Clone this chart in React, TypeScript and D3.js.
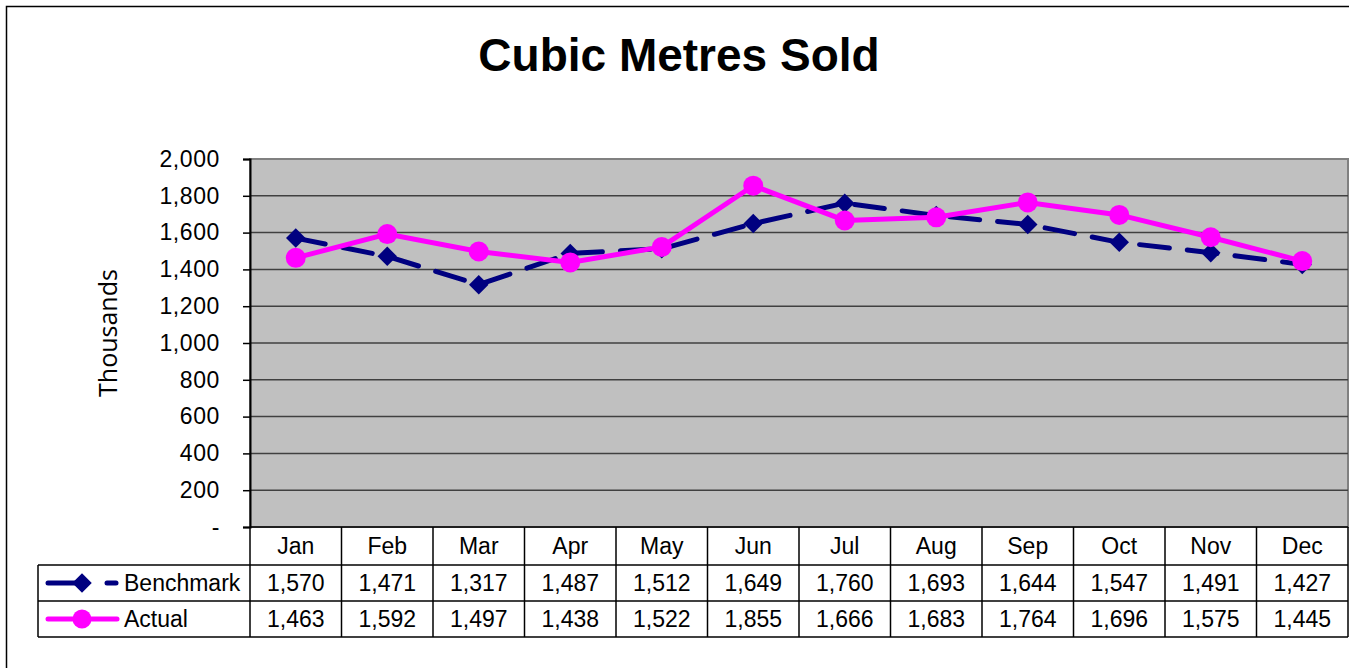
import React, { useEffect, useRef } from "react";
import * as d3 from "d3";

const months = ["Jan", "Feb", "Mar", "Apr", "May", "Jun", "Jul", "Aug", "Sep", "Oct", "Nov", "Dec"];
const benchmark = [1570, 1471, 1317, 1487, 1512, 1649, 1760, 1693, 1644, 1547, 1491, 1427];
const actual = [1463, 1592, 1497, 1438, 1522, 1855, 1666, 1683, 1764, 1696, 1575, 1445];
const yTicks = [0, 200, 400, 600, 800, 1000, 1200, 1400, 1600, 1800, 2000];

const W = 1349;
const H = 668;
const font = "'Liberation Sans', Arial, sans-serif";

export default function App() {
  const svgRef = useRef<SVGSVGElement>(null);

  useEffect(() => {
    const svg = d3.select(svgRef.current);
    svg.selectAll("*").remove();

    const left = 250, right = 1348, top = 159, bottom = 527;
    const rowY = [527, 565, 601, 637];
    const tableLeft = 38;

    // outer chart border
    svg.append("rect")
      .attr("x", 6.5).attr("y", 6.5)
      .attr("width", 1400).attr("height", 700)
      .attr("fill", "white").attr("stroke", "black").attr("stroke-width", 1.5);

    svg.append("text")
      .attr("x", 679).attr("y", 71)
      .attr("text-anchor", "middle")
      .attr("font-family", font).attr("font-weight", "bold").attr("font-size", 46)
      .text("Cubic Metres Sold");

    const x = d3.scaleBand<string>().domain(months).range([left, right]);
    const y = d3.scaleLinear().domain([0, 2000]).range([bottom, top]);
    const cx = (m: string) => (x(m) as number) + x.bandwidth() / 2;

    // plot area
    svg.append("rect")
      .attr("x", left).attr("y", top)
      .attr("width", right - left).attr("height", bottom - top)
      .attr("fill", "#c0c0c0").attr("stroke", "#808080").attr("stroke-width", 2);

    // gridlines
    svg.append("g")
      .selectAll("line")
      .data(yTicks.filter(t => t > 0 && t < 2000))
      .join("line")
      .attr("x1", left).attr("x2", right)
      .attr("y1", d => y(d)).attr("y2", d => y(d))
      .attr("stroke", "#404040").attr("stroke-width", 1.5);

    // y axis
    const yAxis = d3.axisLeft(y)
      .tickValues(yTicks)
      .tickSize(7)
      .tickPadding(23)
      .tickFormat(d => (+d === 0 ? "-" : d3.format(",")(+d)));
    svg.append("g")
      .attr("transform", `translate(${left},0)`)
      .call(yAxis)
      .call(g => g.select(".domain").attr("stroke", "black").attr("stroke-width", 2))
      .call(g => g.selectAll(".tick line").attr("stroke", "black").attr("stroke-width", 1.5))
      .call(g => g.selectAll(".tick text")
        .attr("font-family", font).attr("font-size", 23).attr("letter-spacing", 0.6).attr("fill", "black"));

    svg.append("text")
      .attr("transform", "translate(117,333) rotate(-90)")
      .attr("text-anchor", "middle")
      .attr("font-family", "'Open Sans', sans-serif").attr("font-size", 25)
      .text("Thousands");

    // data table
    const tbl = svg.append("g").attr("stroke", "black").attr("stroke-width", 1.5);
    tbl.append("line").attr("x1", left).attr("x2", right).attr("y1", rowY[0]).attr("y2", rowY[0]);
    rowY.slice(1).forEach(ry => {
      tbl.append("line").attr("x1", tableLeft).attr("x2", right).attr("y1", ry).attr("y2", ry);
    });
    tbl.append("line").attr("x1", tableLeft).attr("x2", tableLeft).attr("y1", rowY[1]).attr("y2", rowY[3]);
    months.forEach(m => {
      const bx = x(m) as number;
      tbl.append("line").attr("x1", bx).attr("x2", bx).attr("y1", rowY[0]).attr("y2", rowY[3]);
    });
    tbl.append("line").attr("x1", right).attr("x2", right).attr("y1", rowY[0]).attr("y2", rowY[3]);

    const cellText = (vals: string[], cy: number) => {
      svg.append("g")
        .selectAll("text")
        .data(vals)
        .join("text")
        .attr("x", (d, i) => cx(months[i]))
        .attr("y", cy + 8)
        .attr("text-anchor", "middle")
        .attr("font-family", font).attr("font-size", 23)
        .text(d => d);
    };
    cellText(months, (rowY[0] + rowY[1]) / 2);
    cellText(benchmark.map(d3.format(",")), (rowY[1] + rowY[2]) / 2);
    cellText(actual.map(d3.format(",")), (rowY[2] + rowY[3]) / 2);

    const diamond = d3.symbol().type(d3.symbolSquare).size(190);

    // legend keys
    const r1 = (rowY[1] + rowY[2]) / 2, r2 = (rowY[2] + rowY[3]) / 2;
    svg.append("line").attr("x1", 48).attr("x2", 84).attr("y1", r1).attr("y2", r1)
      .attr("stroke", "#000080").attr("stroke-width", 5).attr("stroke-linecap", "round");
    svg.append("line").attr("x1", 107).attr("x2", 116).attr("y1", r1).attr("y2", r1)
      .attr("stroke", "#000080").attr("stroke-width", 5).attr("stroke-linecap", "round");
    svg.append("path").attr("d", diamond()).attr("transform", `translate(82,${r1}) rotate(45)`).attr("fill", "#000080");
    svg.append("text").attr("x", 124).attr("y", r1 + 8)
      .attr("font-family", font).attr("font-size", 23).text("Benchmark");
    svg.append("line").attr("x1", 48).attr("x2", 117).attr("y1", r2).attr("y2", r2)
      .attr("stroke", "#ff00ff").attr("stroke-width", 5).attr("stroke-linecap", "round");
    svg.append("circle").attr("cx", 82).attr("cy", r2).attr("r", 9.5).attr("fill", "#ff00ff");
    svg.append("text").attr("x", 124).attr("y", r2 + 8)
      .attr("font-family", font).attr("font-size", 23).text("Actual");

    // series
    const line = d3.line<number>()
      .x((d, i) => cx(months[i]))
      .y(d => y(d));

    svg.append("path")
      .datum(benchmark)
      .attr("d", line)
      .attr("fill", "none")
      .attr("stroke", "#000080").attr("stroke-width", 5)
      .attr("stroke-dasharray", "30,18").attr("stroke-linecap", "round");
    svg.append("g")
      .selectAll("path")
      .data(benchmark)
      .join("path")
      .attr("d", diamond())
      .attr("transform", (d, i) => `translate(${cx(months[i])},${y(d)}) rotate(45)`)
      .attr("fill", "#000080");

    svg.append("path")
      .datum(actual)
      .attr("d", line)
      .attr("fill", "none")
      .attr("stroke", "#ff00ff").attr("stroke-width", 5);
    svg.append("g")
      .selectAll("circle")
      .data(actual)
      .join("circle")
      .attr("cx", (d, i) => cx(months[i]))
      .attr("cy", d => y(d))
      .attr("r", 10)
      .attr("fill", "#ff00ff");
  }, []);

  return (
    <div style={{ position: "absolute", left: 0, top: 0, width: W, height: H, overflow: "hidden" }}>
      <svg ref={svgRef} width={W} height={H} style={{ display: "block", background: "white" }} />
    </div>
  );
}
